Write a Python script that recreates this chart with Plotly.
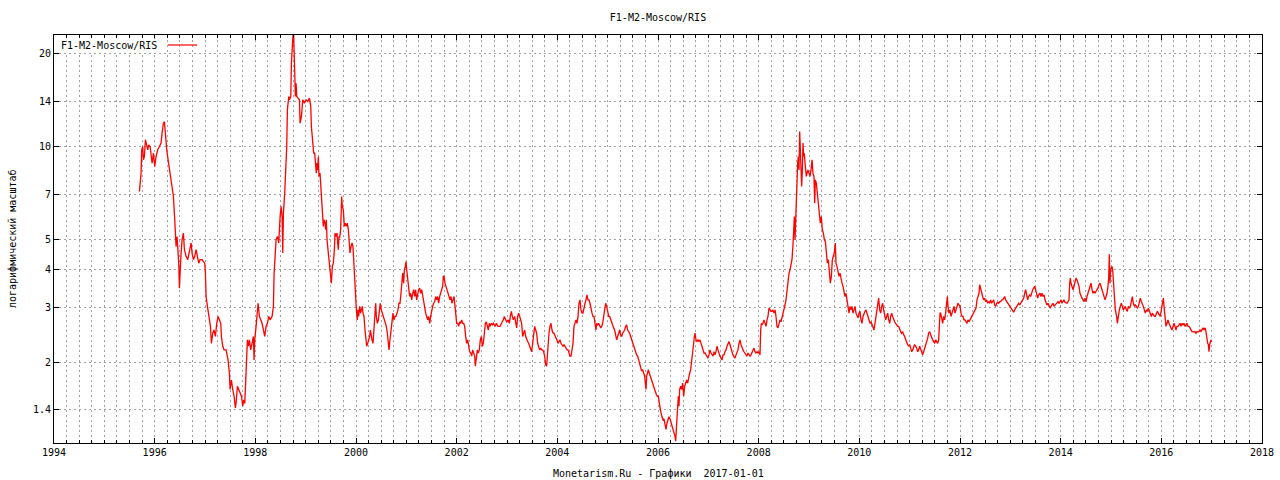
import plotly.graph_objects as go
import math

# ---- data: (decimal year, value) ----
seg_1995_1999 = [
    (1995.697, 7.13), (1995.730, 8.18), (1995.743, 9.73), (1995.763, 9.98), (1995.776, 9.03),
    (1995.796, 9.26), (1995.816, 10.49), (1995.843, 10.1), (1995.863, 9.73), (1995.882, 10.1),
    (1995.909, 9.98), (1995.929, 9.38), (1995.949, 8.81), (1995.975, 9.49), (1996.002, 8.60),
    (1996.028, 9.26), (1996.061, 9.73), (1996.094, 9.98), (1996.127, 10.23), (1996.147, 11.02),
    (1996.174, 11.87), (1996.194, 12.0), (1996.214, 10.75), (1996.240, 9.73), (1996.267, 9.03),
    (1996.293, 8.38), (1996.320, 7.78), (1996.346, 7.41), (1996.373, 6.87), (1996.399, 5.78),
    (1996.412, 5.36), (1996.425, 4.73), (1996.445, 5.10), (1996.478, 4.18), (1996.492, 3.47),
    (1996.505, 3.98), (1996.525, 4.51), (1996.545, 4.98), (1996.571, 5.23), (1996.591, 4.62),
    (1996.624, 4.40), (1996.657, 4.29), (1996.690, 4.51), (1996.724, 4.86), (1996.743, 4.51),
    (1996.770, 4.29), (1996.796, 4.40), (1996.823, 4.62), (1996.849, 4.40), (1996.876, 4.18),
    (1996.902, 4.29), (1996.942, 4.29), (1996.969, 4.23), (1996.995, 4.18), (1997.008, 3.88),
    (1997.022, 3.26), (1997.048, 3.03), (1997.074, 2.81), (1997.088, 2.67), (1997.108, 2.61),
    (1997.127, 2.30), (1997.154, 2.48), (1997.180, 2.54), (1997.207, 2.42), (1997.233, 2.67),
    (1997.260, 2.81), (1997.286, 2.74), (1997.313, 2.67), (1997.326, 2.42), (1997.353, 2.25),
    (1997.379, 2.19), (1997.419, 2.19), (1997.459, 2.03), (1997.485, 1.84), (1997.498, 1.63),
    (1997.525, 1.75), (1997.551, 1.63), (1997.578, 1.55), (1997.604, 1.42), (1997.617, 1.47),
    (1997.644, 1.67), (1997.671, 1.63), (1997.697, 1.59), (1997.724, 1.55), (1997.750, 1.44),
    (1997.770, 1.51), (1997.790, 1.47), (1997.803, 1.71), (1997.816, 1.89), (1997.843, 2.36),
    (1997.863, 2.25), (1997.882, 2.36), (1997.909, 2.19), (1997.935, 2.30), (1997.962, 2.42),
    (1997.975, 2.03), (1997.988, 2.36), (1998.015, 2.61), (1998.041, 2.88), (1998.055, 3.10),
    (1998.081, 2.81), (1998.108, 2.74), (1998.134, 2.67), (1998.161, 2.54), (1998.187, 2.42),
    (1998.214, 2.61), (1998.240, 2.67), (1998.267, 2.81), (1998.293, 2.74), (1998.333, 2.81),
    (1998.359, 3.03), (1998.373, 3.88), (1998.386, 4.18), (1998.399, 4.73), (1998.412, 4.98),
    (1998.439, 5.10), (1998.465, 4.86), (1998.492, 5.92), (1998.512, 6.38), (1998.532, 5.92),
    (1998.545, 4.51), (1998.558, 6.07), (1998.571, 6.46), (1998.584, 7.05), (1998.598, 7.98),
    (1998.611, 8.81), (1998.624, 9.98), (1998.637, 13.11), (1998.651, 14.13), (1998.664, 14.48),
    (1998.677, 14.13), (1998.704, 14.48), (1998.717, 18.56), (1998.730, 20.50), (1998.743, 22.64),
    (1998.757, 24.5), (1998.770, 20.50), (1998.783, 15.22), (1998.796, 14.48), (1998.810, 15.99),
    (1998.823, 14.48), (1998.849, 14.3), (1998.876, 14.13), (1998.889, 11.87), (1998.916, 12.48),
    (1998.942, 14.13), (1998.975, 13.78), (1999.008, 14.13), (1999.041, 13.95), (1999.075, 14.3),
    (1999.101, 13.44), (1999.114, 11.58),
]

seg_1999_2002 = [
    (1999.139, 10.23), (1999.159, 9.49), (1999.179, 9.49), (1999.199, 8.38), (1999.212, 8.18),
    (1999.225, 8.81), (1999.238, 8.38), (1999.252, 9.26), (1999.265, 7.98), (1999.285, 8.18),
    (1999.298, 7.59), (1999.318, 7.22), (1999.331, 6.22), (1999.351, 5.50), (1999.364, 5.78),
    (1999.384, 5.63), (1999.397, 5.36), (1999.411, 5.78), (1999.424, 4.98), (1999.444, 4.62),
    (1999.464, 4.29), (1999.483, 4.18), (1999.497, 3.79), (1999.510, 3.60), (1999.530, 4.08),
    (1999.550, 4.18), (1999.570, 4.62), (1999.583, 5.23), (1999.603, 5.10), (1999.623, 5.23),
    (1999.636, 4.86), (1999.649, 4.62), (1999.662, 5.10), (1999.675, 5.04), (1999.695, 5.36),
    (1999.715, 6.87), (1999.728, 6.38), (1999.748, 6.22), (1999.768, 5.50), (1999.788, 5.63),
    (1999.808, 5.50), (1999.828, 5.63), (1999.848, 5.36), (1999.861, 4.86), (1999.881, 4.51),
    (1999.901, 4.73), (1999.921, 4.86), (1999.940, 4.73), (1999.954, 4.18), (1999.967, 3.79),
    (1999.987, 3.43), (2000.000, 3.10), (2000.013, 2.88), (2000.026, 2.74), (2000.040, 2.95),
    (2000.053, 2.81), (2000.073, 3.03), (2000.093, 2.88), (2000.106, 2.95), (2000.126, 3.03),
    (2000.139, 2.88), (2000.159, 2.81), (2000.179, 2.54), (2000.192, 2.36), (2000.212, 2.25),
    (2000.232, 2.30), (2000.252, 2.36), (2000.272, 2.42), (2000.285, 2.54), (2000.298, 2.42),
    (2000.318, 2.36), (2000.338, 2.30), (2000.358, 2.54), (2000.377, 2.95), (2000.391, 3.10),
    (2000.404, 2.81), (2000.424, 2.67), (2000.444, 2.74), (2000.464, 2.95), (2000.483, 3.10),
    (2000.503, 2.95), (2000.523, 2.88), (2000.543, 2.81), (2000.563, 2.74), (2000.583, 2.67),
    (2000.603, 2.61), (2000.623, 2.48), (2000.636, 2.30), (2000.656, 2.19), (2000.675, 2.36),
    (2000.695, 2.54), (2000.715, 2.74), (2000.735, 2.88), (2000.755, 2.74), (2000.775, 2.81),
    (2000.795, 2.81), (2000.815, 2.88), (2000.834, 2.95), (2000.854, 3.10), (2000.874, 3.10),
    (2000.894, 3.34), (2000.914, 3.79), (2000.927, 3.88), (2000.947, 3.60), (2000.960, 3.98),
    (2000.980, 4.08), (2000.993, 4.23), (2001.007, 3.98), (2001.020, 3.79), (2001.033, 3.60),
    (2001.046, 3.34), (2001.066, 3.26), (2001.086, 3.34), (2001.106, 3.18), (2001.126, 3.34),
    (2001.146, 3.43), (2001.166, 3.26), (2001.185, 3.43), (2001.205, 3.18), (2001.225, 3.34),
    (2001.245, 3.43), (2001.265, 3.47), (2001.285, 3.34), (2001.305, 3.43), (2001.325, 3.26),
    (2001.344, 3.10), (2001.364, 2.95), (2001.384, 2.88), (2001.404, 2.81), (2001.424, 2.74),
    (2001.444, 2.81), (2001.464, 2.67), (2001.483, 2.81), (2001.503, 2.95), (2001.523, 3.03),
    (2001.543, 3.10), (2001.563, 3.14), (2001.583, 3.26), (2001.603, 3.18), (2001.623, 3.26),
    (2001.642, 3.10), (2001.662, 3.26), (2001.682, 3.34), (2001.702, 3.43), (2001.722, 3.52),
    (2001.735, 3.79), (2001.748, 3.79), (2001.768, 3.60), (2001.788, 3.52), (2001.808, 3.43),
    (2001.828, 3.34), (2001.848, 3.26), (2001.868, 3.18), (2001.887, 3.26), (2001.907, 3.10),
    (2001.927, 3.18), (2001.947, 3.26), (2001.967, 3.03), (2001.980, 2.88), (2002.000, 2.67),
    (2002.020, 2.67), (2002.040, 2.61), (2002.060, 2.70), (2002.079, 2.67), (2002.099, 2.74),
    (2002.119, 2.67), (2002.139, 2.67), (2002.159, 2.61), (2002.179, 2.42), (2002.199, 2.30),
    (2002.219, 2.36), (2002.238, 2.25), (2002.258, 2.16), (2002.278, 2.14), (2002.298, 2.09),
    (2002.318, 2.19), (2002.338, 2.14), (2002.358, 2.09), (2002.371, 1.94), (2002.391, 2.09),
    (2002.411, 2.19), (2002.430, 2.14), (2002.450, 2.19), (2002.470, 2.36), (2002.490, 2.42),
    (2002.510, 2.25), (2002.530, 2.30), (2002.550, 2.48), (2002.570, 2.67), (2002.589, 2.70),
    (2002.609, 2.61), (2002.629, 2.54), (2002.649, 2.67), (2002.669, 2.61), (2002.689, 2.67),
    (2002.709, 2.64), (2002.728, 2.67), (2002.748, 2.64), (2002.768, 2.61), (2002.788, 2.67),
    (2002.821, 2.61),
]

seg_2002_2006 = [
    (2002.861, 2.61), (2002.894, 2.67), (2002.927, 2.74), (2002.947, 2.81), (2002.967, 2.74),
    (2002.993, 2.70), (2003.026, 2.74), (2003.046, 2.67), (2003.066, 2.81), (2003.086, 2.92),
    (2003.106, 2.81), (2003.126, 2.74), (2003.152, 2.81), (2003.172, 2.67), (2003.192, 2.58),
    (2003.212, 2.81), (2003.232, 2.88), (2003.252, 2.81), (2003.272, 2.74), (2003.291, 2.67),
    (2003.311, 2.42), (2003.331, 2.48), (2003.351, 2.54), (2003.371, 2.42), (2003.391, 2.36),
    (2003.411, 2.33), (2003.430, 2.30), (2003.450, 2.25), (2003.470, 2.19), (2003.490, 2.16),
    (2003.510, 2.30), (2003.530, 2.54), (2003.550, 2.61), (2003.570, 2.54), (2003.589, 2.48),
    (2003.609, 2.30), (2003.629, 2.25), (2003.649, 2.19), (2003.669, 2.22), (2003.689, 2.19),
    (2003.709, 2.19), (2003.728, 2.16), (2003.748, 2.09), (2003.768, 1.96), (2003.788, 1.94),
    (2003.801, 2.14), (2003.815, 2.30), (2003.834, 2.48), (2003.854, 2.61), (2003.874, 2.67),
    (2003.894, 2.54), (2003.914, 2.48), (2003.934, 2.48), (2003.954, 2.42), (2003.974, 2.39),
    (2003.993, 2.36), (2004.013, 2.30), (2004.033, 2.33), (2004.053, 2.36), (2004.073, 2.30),
    (2004.093, 2.28), (2004.113, 2.25), (2004.132, 2.28), (2004.152, 2.25), (2004.172, 2.22),
    (2004.192, 2.19), (2004.212, 2.19), (2004.232, 2.14), (2004.252, 2.09), (2004.272, 2.09),
    (2004.291, 2.19), (2004.311, 2.30), (2004.331, 2.61), (2004.351, 2.67), (2004.371, 2.74),
    (2004.391, 2.67), (2004.411, 2.81), (2004.430, 3.10), (2004.450, 3.18), (2004.470, 2.95),
    (2004.490, 2.88), (2004.510, 2.88), (2004.530, 3.03), (2004.550, 3.10), (2004.570, 3.18),
    (2004.589, 3.30), (2004.609, 3.18), (2004.629, 3.18), (2004.649, 3.10), (2004.669, 2.95),
    (2004.689, 2.88), (2004.709, 2.81), (2004.728, 2.81), (2004.748, 2.67), (2004.768, 2.54),
    (2004.781, 2.67), (2004.801, 2.64), (2004.821, 2.67), (2004.841, 2.61), (2004.861, 2.58),
    (2004.881, 2.61), (2004.901, 2.67), (2004.921, 2.81), (2004.940, 3.03), (2004.960, 3.10),
    (2004.980, 3.03), (2005.000, 2.88), (2005.020, 2.81), (2005.040, 2.81), (2005.060, 2.74),
    (2005.079, 2.67), (2005.099, 2.61), (2005.119, 2.58), (2005.139, 2.54), (2005.159, 2.45),
    (2005.179, 2.36), (2005.199, 2.42), (2005.219, 2.48), (2005.238, 2.54), (2005.258, 2.45),
    (2005.278, 2.42), (2005.298, 2.48), (2005.318, 2.51), (2005.338, 2.54), (2005.358, 2.61),
    (2005.377, 2.64), (2005.397, 2.54), (2005.417, 2.51), (2005.437, 2.48), (2005.457, 2.42),
    (2005.477, 2.36), (2005.497, 2.30), (2005.517, 2.25), (2005.536, 2.19), (2005.556, 2.14),
    (2005.576, 2.11), (2005.596, 2.09), (2005.616, 2.03), (2005.636, 1.99), (2005.656, 1.89),
    (2005.675, 1.87), (2005.695, 1.89), (2005.715, 1.84), (2005.735, 1.80), (2005.748, 1.71),
    (2005.762, 1.63), (2005.775, 1.80), (2005.788, 1.84), (2005.808, 1.89), (2005.828, 1.84),
    (2005.848, 1.80), (2005.868, 1.75), (2005.887, 1.71), (2005.907, 1.67), (2005.927, 1.63),
    (2005.947, 1.59), (2005.967, 1.57), (2005.987, 1.55), (2006.007, 1.55), (2006.026, 1.47),
    (2006.040, 1.40), (2006.060, 1.37), (2006.079, 1.33), (2006.099, 1.30), (2006.119, 1.31),
    (2006.139, 1.27), (2006.159, 1.21), (2006.179, 1.27), (2006.199, 1.30), (2006.219, 1.33),
    (2006.238, 1.31), (2006.258, 1.27), (2006.278, 1.24), (2006.298, 1.21), (2006.318, 1.18),
    (2006.338, 1.15), (2006.351, 1.11), (2006.364, 1.21), (2006.377, 1.33), (2006.391, 1.47),
    (2006.404, 1.55), (2006.417, 1.44),
]

seg_2006_2010 = [
    (2006.430, 1.63), (2006.450, 1.67), (2006.470, 1.63), (2006.490, 1.71), (2006.510, 1.55),
    (2006.530, 1.67), (2006.550, 1.71), (2006.570, 1.75), (2006.589, 1.71), (2006.609, 1.80),
    (2006.629, 1.84), (2006.649, 1.89), (2006.669, 1.99), (2006.682, 2.14), (2006.702, 2.25),
    (2006.722, 2.42), (2006.735, 2.48), (2006.755, 2.36), (2006.775, 2.33), (2006.795, 2.36),
    (2006.815, 2.33), (2006.834, 2.36), (2006.854, 2.30), (2006.874, 2.25), (2006.894, 2.19),
    (2006.914, 2.14), (2006.934, 2.14), (2006.954, 2.11), (2006.974, 2.09), (2006.993, 2.06),
    (2007.013, 2.11), (2007.033, 2.19), (2007.053, 2.14), (2007.073, 2.11), (2007.093, 2.09),
    (2007.113, 2.16), (2007.132, 2.11), (2007.152, 2.16), (2007.172, 2.25), (2007.192, 2.19),
    (2007.212, 2.11), (2007.232, 2.09), (2007.252, 2.06), (2007.272, 2.03), (2007.291, 2.11),
    (2007.311, 2.11), (2007.331, 2.16), (2007.351, 2.19), (2007.371, 2.25), (2007.391, 2.28),
    (2007.411, 2.33), (2007.430, 2.28), (2007.450, 2.19), (2007.470, 2.16), (2007.490, 2.11),
    (2007.510, 2.09), (2007.530, 2.06), (2007.550, 2.11), (2007.570, 2.16), (2007.589, 2.19),
    (2007.609, 2.30), (2007.629, 2.36), (2007.649, 2.28), (2007.669, 2.22), (2007.689, 2.19),
    (2007.709, 2.16), (2007.728, 2.14), (2007.748, 2.11), (2007.768, 2.09), (2007.788, 2.14),
    (2007.808, 2.11), (2007.828, 2.09), (2007.848, 2.11), (2007.868, 2.14), (2007.887, 2.19),
    (2007.907, 2.22), (2007.927, 2.16), (2007.947, 2.14), (2007.967, 2.16), (2007.987, 2.14),
    (2008.007, 2.16), (2008.026, 2.11), (2008.040, 2.54), (2008.053, 2.67), (2008.066, 2.64),
    (2008.086, 2.67), (2008.106, 2.74), (2008.126, 2.64), (2008.146, 2.61), (2008.166, 2.74),
    (2008.185, 2.81), (2008.205, 2.99), (2008.225, 2.95), (2008.245, 2.92), (2008.265, 2.92),
    (2008.285, 2.95), (2008.305, 2.88), (2008.325, 2.95), (2008.344, 2.81), (2008.364, 2.61),
    (2008.384, 2.58), (2008.404, 2.67), (2008.424, 2.74), (2008.444, 2.70), (2008.464, 2.78),
    (2008.483, 2.85), (2008.503, 2.95), (2008.523, 3.06), (2008.543, 3.18), (2008.563, 3.43),
    (2008.583, 3.69), (2008.603, 3.88), (2008.623, 3.98), (2008.642, 4.18), (2008.662, 4.29),
    (2008.682, 4.80), (2008.695, 5.92), (2008.709, 5.92), (2008.722, 4.98), (2008.735, 5.92),
    (2008.748, 7.22), (2008.762, 8.18), (2008.775, 8.81), (2008.788, 9.26), (2008.801, 8.38),
    (2008.815, 11.16), (2008.828, 9.73), (2008.841, 7.98), (2008.854, 7.41), (2008.868, 8.38),
    (2008.881, 10.23), (2008.894, 9.26), (2008.907, 9.49), (2008.921, 8.81), (2008.934, 8.38),
    (2008.947, 7.98), (2008.960, 8.18), (2008.980, 8.38), (2009.000, 8.18), (2009.020, 7.98),
    (2009.040, 8.38), (2009.060, 9.03), (2009.079, 8.18), (2009.099, 7.98), (2009.113, 6.54),
    (2009.126, 7.78), (2009.146, 7.59), (2009.166, 7.05), (2009.185, 6.38), (2009.205, 5.92),
    (2009.225, 5.63), (2009.245, 5.92), (2009.265, 5.36), (2009.285, 5.23), (2009.305, 4.98),
    (2009.325, 4.92), (2009.344, 4.51), (2009.364, 4.18), (2009.384, 4.29), (2009.404, 3.88),
    (2009.424, 3.60), (2009.444, 3.79), (2009.464, 4.29), (2009.483, 4.40), (2009.503, 4.51),
    (2009.523, 4.86), (2009.536, 4.18), (2009.556, 4.08), (2009.576, 3.88), (2009.596, 3.79),
    (2009.616, 3.88), (2009.636, 3.69), (2009.656, 3.60), (2009.675, 3.52), (2009.695, 3.34),
    (2009.715, 3.26), (2009.735, 3.34), (2009.755, 3.18), (2009.775, 3.10), (2009.795, 2.88),
    (2009.815, 3.03), (2009.834, 2.95), (2009.854, 3.03), (2009.874, 2.88), (2009.894, 2.95),
    (2009.914, 3.03), (2009.934, 2.88), (2009.954, 2.81), (2009.974, 2.78), (2009.993, 2.88),
    (2010.013, 2.92),
]

seg_2010_2013 = [
    (2010.033, 2.74), (2010.053, 2.67), (2010.073, 2.81), (2010.093, 2.88), (2010.113, 2.92),
    (2010.132, 2.95), (2010.152, 2.88), (2010.172, 2.81), (2010.192, 2.74), (2010.212, 2.67),
    (2010.232, 2.70), (2010.252, 2.64), (2010.272, 2.61), (2010.291, 2.54), (2010.311, 2.67),
    (2010.331, 2.81), (2010.351, 2.88), (2010.371, 3.03), (2010.384, 3.22), (2010.404, 2.95),
    (2010.424, 2.88), (2010.444, 3.03), (2010.464, 3.10), (2010.483, 2.95), (2010.503, 2.81),
    (2010.523, 2.74), (2010.543, 2.81), (2010.563, 2.88), (2010.583, 2.74), (2010.603, 2.67),
    (2010.623, 2.81), (2010.642, 2.88), (2010.662, 2.81), (2010.682, 2.74), (2010.702, 2.70),
    (2010.722, 2.67), (2010.742, 2.64), (2010.762, 2.61), (2010.781, 2.61), (2010.801, 2.54),
    (2010.821, 2.51), (2010.841, 2.48), (2010.861, 2.51), (2010.881, 2.45), (2010.901, 2.42),
    (2010.921, 2.36), (2010.940, 2.30), (2010.960, 2.28), (2010.980, 2.25), (2011.000, 2.28),
    (2011.020, 2.22), (2011.040, 2.16), (2011.060, 2.19), (2011.079, 2.25), (2011.099, 2.28),
    (2011.119, 2.25), (2011.139, 2.22), (2011.159, 2.16), (2011.179, 2.19), (2011.199, 2.25),
    (2011.219, 2.19), (2011.238, 2.14), (2011.258, 2.11), (2011.278, 2.16), (2011.298, 2.22),
    (2011.318, 2.25), (2011.338, 2.30), (2011.358, 2.39), (2011.377, 2.48), (2011.397, 2.51),
    (2011.417, 2.45), (2011.437, 2.39), (2011.457, 2.36), (2011.477, 2.33), (2011.497, 2.30),
    (2011.517, 2.36), (2011.536, 2.33), (2011.556, 2.30), (2011.576, 2.36), (2011.589, 2.67),
    (2011.603, 2.88), (2011.616, 2.88), (2011.636, 2.74), (2011.656, 2.67), (2011.675, 2.81),
    (2011.695, 2.74), (2011.715, 2.88), (2011.735, 3.18), (2011.748, 3.26), (2011.762, 3.03),
    (2011.781, 2.88), (2011.801, 2.95), (2011.821, 2.81), (2011.841, 2.88), (2011.861, 2.95),
    (2011.881, 3.03), (2011.901, 2.88), (2011.921, 2.95), (2011.940, 3.06), (2011.960, 3.10),
    (2011.980, 3.06), (2012.000, 3.03), (2012.020, 2.88), (2012.040, 2.81), (2012.060, 2.81),
    (2012.079, 2.74), (2012.099, 2.74), (2012.119, 2.70), (2012.139, 2.67), (2012.159, 2.74),
    (2012.179, 2.70), (2012.199, 2.74), (2012.219, 2.78), (2012.238, 2.81), (2012.258, 2.88),
    (2012.278, 2.92), (2012.298, 2.95), (2012.318, 2.99), (2012.338, 3.18), (2012.358, 3.26),
    (2012.377, 3.34), (2012.391, 3.56), (2012.411, 3.43), (2012.430, 3.34), (2012.450, 3.26),
    (2012.470, 3.18), (2012.490, 3.22), (2012.510, 3.14), (2012.530, 3.18), (2012.550, 3.10),
    (2012.570, 3.14), (2012.589, 3.10), (2012.609, 3.18), (2012.629, 3.10), (2012.649, 3.14),
    (2012.669, 3.18), (2012.689, 3.06), (2012.709, 3.03), (2012.728, 3.10), (2012.748, 3.12),
    (2012.768, 3.10), (2012.788, 3.14), (2012.808, 3.14), (2012.828, 3.18), (2012.848, 3.18),
    (2012.868, 3.22), (2012.887, 3.26), (2012.907, 3.18), (2012.927, 3.14), (2012.947, 3.10),
    (2012.967, 3.06), (2012.987, 3.03), (2013.007, 2.99), (2013.026, 2.95), (2013.046, 2.92),
    (2013.066, 2.90), (2013.086, 2.95), (2013.106, 2.99), (2013.126, 3.03), (2013.146, 3.06),
    (2013.166, 3.10), (2013.185, 3.06), (2013.205, 3.12), (2013.225, 3.14), (2013.245, 3.18),
    (2013.265, 3.22), (2013.285, 3.34), (2013.305, 3.43), (2013.325, 3.30), (2013.344, 3.18),
    (2013.364, 3.26), (2013.384, 3.30), (2013.404, 3.26), (2013.424, 3.39), (2013.444, 3.43),
    (2013.464, 3.47), (2013.483, 3.52), (2013.503, 3.43), (2013.523, 3.34), (2013.543, 3.22),
    (2013.563, 3.30), (2013.589, 3.34),
]

seg_2013_2017 = [
    (2013.609, 3.26), (2013.629, 3.34), (2013.649, 3.26), (2013.669, 3.30), (2013.689, 3.18),
    (2013.709, 3.10), (2013.728, 3.06), (2013.748, 3.10), (2013.768, 3.03), (2013.788, 2.99),
    (2013.808, 3.03), (2013.828, 3.06), (2013.848, 3.10), (2013.868, 3.03), (2013.887, 3.06),
    (2013.907, 3.10), (2013.927, 3.12), (2013.947, 3.14), (2013.967, 3.10), (2013.987, 3.14),
    (2014.007, 3.18), (2014.026, 3.10), (2014.046, 3.14), (2014.066, 3.18), (2014.086, 3.12),
    (2014.106, 3.10), (2014.126, 3.10), (2014.146, 3.14), (2014.166, 3.18), (2014.179, 3.60),
    (2014.192, 3.74), (2014.205, 3.60), (2014.225, 3.52), (2014.245, 3.43), (2014.265, 3.52),
    (2014.285, 3.60), (2014.305, 3.74), (2014.325, 3.69), (2014.344, 3.60), (2014.364, 3.52),
    (2014.384, 3.34), (2014.404, 3.26), (2014.424, 3.22), (2014.444, 3.18), (2014.464, 3.14),
    (2014.483, 3.22), (2014.503, 3.14), (2014.523, 3.26), (2014.543, 3.34), (2014.563, 3.43),
    (2014.583, 3.56), (2014.603, 3.60), (2014.623, 3.43), (2014.642, 3.34), (2014.662, 3.39),
    (2014.682, 3.34), (2014.702, 3.39), (2014.722, 3.43), (2014.742, 3.47), (2014.762, 3.56),
    (2014.781, 3.60), (2014.801, 3.52), (2014.821, 3.43), (2014.841, 3.34), (2014.861, 3.26),
    (2014.881, 3.18), (2014.901, 3.26), (2014.921, 3.34), (2014.940, 3.52), (2014.954, 3.74),
    (2014.967, 4.47), (2014.980, 3.60), (2014.993, 3.98), (2015.007, 4.03), (2015.020, 4.08),
    (2015.033, 3.98), (2015.046, 3.60), (2015.060, 3.26), (2015.073, 3.03), (2015.086, 2.95),
    (2015.099, 2.88), (2015.113, 2.81), (2015.126, 2.67), (2015.139, 2.81), (2015.152, 2.88),
    (2015.166, 2.95), (2015.185, 3.03), (2015.205, 3.10), (2015.225, 3.03), (2015.245, 2.95),
    (2015.265, 2.99), (2015.285, 3.03), (2015.305, 2.95), (2015.325, 2.92), (2015.344, 3.03),
    (2015.364, 2.99), (2015.384, 3.03), (2015.404, 3.18), (2015.424, 3.26), (2015.444, 3.10),
    (2015.464, 3.03), (2015.483, 3.06), (2015.503, 3.03), (2015.523, 2.99), (2015.543, 3.03),
    (2015.563, 3.10), (2015.583, 3.22), (2015.603, 3.14), (2015.623, 3.10), (2015.642, 3.03),
    (2015.662, 2.95), (2015.682, 2.88), (2015.702, 2.95), (2015.722, 2.92), (2015.742, 2.99),
    (2015.762, 2.92), (2015.781, 2.88), (2015.801, 2.81), (2015.821, 2.88), (2015.841, 2.85),
    (2015.861, 2.81), (2015.881, 2.81), (2015.901, 2.88), (2015.921, 2.92), (2015.940, 2.88),
    (2015.960, 2.85), (2015.980, 2.81), (2016.000, 2.95), (2016.020, 3.14), (2016.040, 3.22),
    (2016.060, 2.95), (2016.079, 2.81), (2016.093, 2.61), (2016.113, 2.67), (2016.132, 2.74),
    (2016.152, 2.67), (2016.172, 2.61), (2016.192, 2.58), (2016.212, 2.54), (2016.232, 2.61),
    (2016.252, 2.67), (2016.272, 2.61), (2016.291, 2.54), (2016.311, 2.61), (2016.331, 2.61),
    (2016.351, 2.64), (2016.371, 2.67), (2016.391, 2.61), (2016.411, 2.67), (2016.430, 2.64),
    (2016.450, 2.67), (2016.470, 2.61), (2016.490, 2.64), (2016.510, 2.67), (2016.530, 2.61),
    (2016.550, 2.61), (2016.570, 2.58), (2016.589, 2.54), (2016.609, 2.51), (2016.629, 2.51),
    (2016.649, 2.50), (2016.669, 2.51), (2016.689, 2.48), (2016.709, 2.51), (2016.728, 2.50),
    (2016.748, 2.51), (2016.768, 2.54), (2016.788, 2.51), (2016.808, 2.54), (2016.828, 2.58),
    (2016.848, 2.54), (2016.868, 2.58), (2016.881, 2.54), (2016.894, 2.42), (2016.907, 2.33),
    (2016.921, 2.30), (2016.934, 2.28), (2016.947, 2.16), (2016.960, 2.28), (2016.974, 2.33),
    (2016.987, 2.36), (2017.000, 2.33),
]

series_name = "F1-M2-Moscow/RIS"
chart_title = "F1-M2-Moscow/RIS"
x_title = "Monetarism.Ru - Графики\u00a0 2017-01-01"
y_title = "логарифмический масштаб"
y_ticks = [1.4, 2, 3, 4, 5, 7, 10, 14, 20]
y_tick_labels = ["1.4", "2", "3", "4", "5", "7", "10", "14", "20"]
x_range = [1994, 2018]
y_range = [1.094, 22.9]

points = seg_1995_1999 + seg_1999_2002 + seg_2002_2006 + seg_2006_2010 + seg_2010_2013 + seg_2013_2017
xs = [p[0] for p in points]
ys = [p[1] for p in points]

FONT = "DejaVu Sans Mono"
GRID = "#a0a0a0"

fig = go.Figure()
fig.add_trace(go.Scatter(
    x=xs, y=ys, mode="lines", name=series_name,
    line=dict(color="#ff0000", width=1.3), showlegend=False, hoverinfo="skip",
))

axis_common = dict(
    showline=True, linecolor="black", linewidth=1, mirror="allticks",
    ticks="inside", tickcolor="black", ticklen=5, tickwidth=1,
    showgrid=True, gridcolor=GRID, griddash="2px,3px", gridwidth=1,
    zeroline=False, automargin=False,
    tickfont=dict(family=FONT, size=10, color="black"),
)

fig.update_xaxes(
    range=x_range, tick0=1994, dtick=2, tickformat="d",
    minor=dict(dtick=0.25, tick0=1994, ticks="inside", ticklen=3, tickcolor="black",
               showgrid=True, gridcolor=GRID, griddash="2px,3px", gridwidth=1),
    **axis_common,
)
fig.update_yaxes(
    type="log", range=[math.log10(y_range[0]), math.log10(y_range[1])],
    tickvals=y_ticks, ticktext=y_tick_labels,
    **axis_common,
)

plot_l, plot_r, plot_t, plot_b = 54, 1262, 35, 443
W, H = 1280, 480
pw, ph = plot_r - plot_l, plot_b - plot_t

def px_x(px):
    return (px - plot_l) / pw

def px_y(py):
    return (plot_b - py) / ph

fig.update_layout(
    width=W, height=H, autosize=False,
    margin=dict(l=plot_l, r=W - plot_r, t=plot_t, b=H - plot_b, pad=0, autoexpand=False),
    paper_bgcolor="white", plot_bgcolor="white",
    font=dict(family=FONT, size=10, color="black"),
    title=dict(text=chart_title, x=(plot_l + plot_r) / 2 / W, xanchor="center",
               y=1 - 17 / H, yanchor="middle", font=dict(family=FONT, size=10, color="black")),
    annotations=[
        dict(text=x_title, xref="paper", yref="paper", x=0.5, y=px_y(473),
             xanchor="center", yanchor="middle", showarrow=False,
             font=dict(family=FONT, size=10, color="black")),
        dict(text=y_title, xref="paper", yref="paper", x=px_x(12), y=0.5,
             xanchor="center", yanchor="middle", textangle=-90, showarrow=False,
             font=dict(family=FONT, size=10, color="black")),
        dict(text=series_name, xref="paper", yref="paper", x=px_x(59), y=px_y(45),
             xanchor="left", yanchor="middle", showarrow=False, bgcolor="white",
             font=dict(family=FONT, size=10, color="black")),
    ],
    shapes=[
        dict(type="line", xref="paper", yref="paper", x0=px_x(168), x1=px_x(197),
             y0=px_y(45), y1=px_y(45), line=dict(color="#ff0000", width=1.2)),
    ],
)

fig.write_html(
    "out.html",
    config={"displayModeBar": False},
    post_script="document.body.style.margin='0';document.body.style.overflow='hidden';",
)
